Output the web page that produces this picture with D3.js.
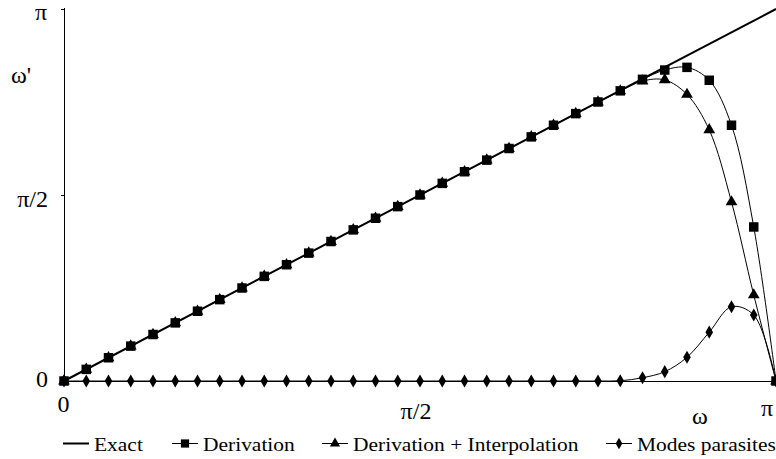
<!DOCTYPE html>
<html>
<head><meta charset="utf-8" /></head>
<body>
<div id="c"></div>
<script src="https://cdn.jsdelivr.net/npm/d3@7"></script>
<script>
// all values in units of pi/32
var omega = [0, 1, 2, 3, 4, 5, 6, 7, 8, 9, 10, 11, 12, 13, 14, 15, 16,
  17, 18, 19, 20, 21, 22, 23, 24, 25, 26, 27, 28, 29, 30, 31, 32];
var exact = [0, 32];
var exactOmega = [0, 32];
var derivation = [0, 1, 2, 3, 4, 5, 6, 7, 8, 9, 10, 11, 12, 13, 14, 15, 16,
  17, 18, 19, 20, 21, 22, 23, 24, 24.96, 25.95, 26.75, 26.98, 25.87, 22.0, 13.25, 0];
var derivInterp = [0, 1, 2, 3, 4, 5, 6, 7, 8, 9, 10, 11, 12, 13, 14, 15, 16,
  17, 18, 19, 20, 21, 22, 23, 24, 24.95, 25.8, 25.9, 24.65, 21.6, 15.4, 7.4, 0];
var parasites = [0, 0, 0, 0, 0, 0, 0, 0, 0, 0, 0, 0, 0, 0, 0, 0, 0,
  0, 0, 0, 0, 0, 0, 0, 0, 0.02, 0.28, 0.8, 2.04, 4.2, 6.39, 5.68, 0];

var yTicks = [0, 16, 32];
var yTickLabels = ["0", "\u03c0/2", "\u03c0"];
var xTickLabels = ["0", "\u03c0/2", "\u03c0"];
var legendNames = ["Exact", "Derivation", "Derivation + Interpolation", "Modes parasites"];

var width = 776, height = 459;
var font = "Liberation Serif";

d3.select("body").style("margin", "0px");

var svg = d3.select("#c").append("svg")
    .attr("width", width)
    .attr("height", height)
    .style("display", "block");

var x = d3.scaleLinear().domain([0, 32]).range([64, 776]);
var y = d3.scaleLinear().domain([0, 32]).range([381, 9]);

// axes
var yAxis = svg.append("g")
    .attr("transform", "translate(64.5,0)")
    .call(d3.axisLeft(y).tickValues(yTicks).tickSize(4).tickSizeOuter(0).tickFormat(""));
yAxis.select(".domain").attr("d", "M0," + (y(32) - 1) + "V" + y(0));
yAxis.selectAll("path, line").attr("stroke", "#000").attr("shape-rendering", "crispEdges");

svg.append("line")
    .attr("x1", x(0)).attr("x2", x(32))
    .attr("y1", y(0) + 0.5).attr("y2", y(0) + 0.5)
    .attr("stroke", "#000").attr("stroke-width", 1);

// axis labels
function label(tx, ty, anchor, str) {
  svg.append("text").attr("x", tx).attr("y", ty)
      .attr("text-anchor", anchor)
      .attr("font-size", 24)
      .style("font-family", font)
      .text(str);
}
label(48, 387, "end", yTickLabels[0]);
label(48, 207, "end", yTickLabels[1]);
label(47, 20, "end", yTickLabels[2]);
label(11, 83, "start", "\u03c9'");
label(63.5, 412, "middle", xTickLabels[0]);
label(416, 419, "middle", xTickLabels[1]);
label(767, 416, "middle", xTickLabels[2]);
label(700, 424, "middle", "\u03c9");

// series
var smooth = d3.line()
    .x(function(d) { return x(d[0]); })
    .y(function(d) { return y(d[1]); })
    .curve(d3.curveCatmullRom.alpha(0.5));
var straight = d3.line()
    .x(function(d) { return x(d[0]); })
    .y(function(d) { return y(d[1]); });

svg.append("path")
    .datum(d3.zip(exactOmega, exact))
    .attr("d", straight)
    .attr("fill", "none").attr("stroke", "#000").attr("stroke-width", 2);

var series = [
  { values: derivation, symbol: d3.symbolSquare, size: 90 },
  { values: derivInterp, symbol: d3.symbolTriangle, size: 60 },
  { values: parasites, symbol: d3.symbolDiamond, size: 50 }
];

series.forEach(function(s) {
  var pts = d3.zip(omega, s.values);
  svg.append("path")
      .datum(pts)
      .attr("d", smooth)
      .attr("fill", "none").attr("stroke", "#000").attr("stroke-width", 1);
  svg.append("g").selectAll("path")
      .data(pts)
      .join("path")
      .attr("transform", function(d) { return "translate(" + x(d[0]) + "," + y(d[1]) + ")"; })
      .attr("d", d3.symbol().type(s.symbol).size(s.size))
      .attr("fill", "#000");
});

// legend
var legendX = [63, 172, 322, 606];
var legendY = 443.5;
legendNames.forEach(function(name, i) {
  var g = svg.append("g").attr("transform", "translate(" + legendX[i] + "," + legendY + ")");
  g.append("line").attr("x1", 0).attr("x2", 26).attr("y1", 0).attr("y2", 0)
      .attr("stroke", "#000").attr("stroke-width", i === 0 ? 2 : 1);
  if (i > 0) {
    g.append("path")
        .attr("transform", "translate(13,0)")
        .attr("d", d3.symbol().type(series[i - 1].symbol).size(series[i - 1].size * 0.75))
        .attr("fill", "#000");
  }
  g.append("text")
      .attr("transform", "translate(31,7) scale(1.13,1)")
      .attr("font-size", 19)
      .style("font-family", font)
      .text(name);
});
</script>
</body>
</html>
